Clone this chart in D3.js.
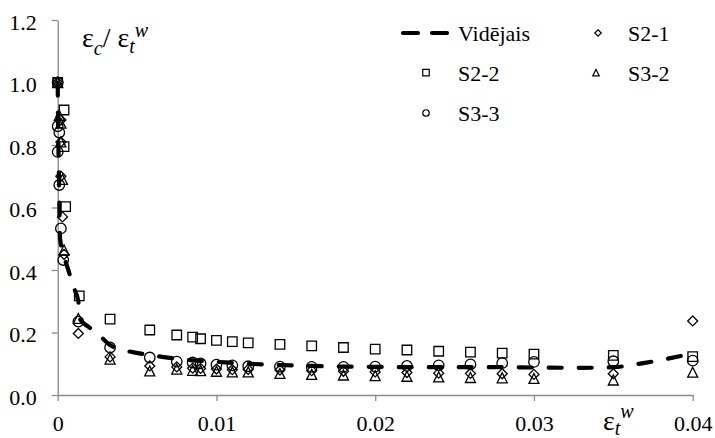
<!DOCTYPE html>
<html>
<head>
<meta charset="utf-8">
<script src="https://cdn.jsdelivr.net/npm/d3@7"></script>
<style>
  html, body { margin: 0; padding: 0; background: #fff; }
  #chart text, #chart tspan { font-family: 'Liberation Serif' !important; }
</style>
</head>
<body>
<svg id="chart" width="715" height="438"></svg>
<script>
// ---- data: strain ratio εc/εt^w against tensile strain εt^w ----
const s21X = [0, 0.0002, 0.0002, 0.0002, 0.0003, 0.0004, 0.0013, 0.0033, 0.0058, 0.0075, 0.0085, 0.009, 0.010, 0.011, 0.012, 0.014, 0.016, 0.018, 0.020, 0.022, 0.024, 0.026, 0.028, 0.030, 0.035, 0.040];
const s21Y = [1.00, 0.88, 0.81, 0.70, 0.57, 0.45, 0.197, 0.122, 0.093, 0.090, 0.086, 0.085, 0.083, 0.081, 0.082, 0.080, 0.078, 0.076, 0.074, 0.072, 0.070, 0.069, 0.068, 0.066, 0.068, 0.237];

const s22X = [0, 0.0004, 0.0004, 0.0005, 0.00136, 0.0033, 0.0058, 0.0075, 0.0085, 0.009, 0.010, 0.011, 0.012, 0.014, 0.016, 0.018, 0.020, 0.022, 0.024, 0.026, 0.028, 0.030, 0.035, 0.040];
const s22Y = [1.00, 0.912, 0.795, 0.603, 0.317, 0.243, 0.208, 0.192, 0.185, 0.180, 0.175, 0.171, 0.167, 0.162, 0.157, 0.152, 0.147, 0.144, 0.140, 0.137, 0.134, 0.131, 0.127, 0.123];

const s32X = [0, 0.0001, 0.0002, 0.0002, 0.0003, 0.0004, 0.0013, 0.0033, 0.0058, 0.0075, 0.0085, 0.009, 0.010, 0.011, 0.012, 0.014, 0.016, 0.018, 0.020, 0.022, 0.024, 0.026, 0.028, 0.030, 0.035, 0.040];
const s32Y = [1.00, 0.895, 0.87, 0.81, 0.69, 0.464, 0.245, 0.115, 0.077, 0.083, 0.079, 0.078, 0.076, 0.074, 0.074, 0.069, 0.066, 0.064, 0.062, 0.060, 0.058, 0.056, 0.055, 0.053, 0.048, 0.073];

const s33X = [0, 0, 0.0001, 0, 0.0001, 0.0002, 0.00035, 0.0013, 0.0033, 0.0058, 0.0075, 0.0085, 0.009, 0.010, 0.011, 0.012, 0.014, 0.016, 0.018, 0.020, 0.022, 0.024, 0.026, 0.028, 0.030, 0.035, 0.040];
const s33Y = [1.00, 0.86, 0.84, 0.778, 0.672, 0.533, 0.432, 0.235, 0.152, 0.120, 0.107, 0.104, 0.101, 0.097, 0.095, 0.092, 0.091, 0.090, 0.090, 0.091, 0.093, 0.095, 0.098, 0.102, 0.106, 0.108, 0.110];

// mean curve (Vidējais)
const avgX = [0, 0.00003, 0.00008, 0.00015, 0.0004, 0.0007, 0.001, 0.0013, 0.00138, 0.002, 0.0027, 0.0033, 0.0043, 0.0058, 0.0075, 0.0085, 0.010, 0.011, 0.012, 0.014, 0.016, 0.018, 0.020, 0.022, 0.024, 0.026, 0.028, 0.030, 0.033, 0.035, 0.037, 0.040];
const avgY = [1.00, 0.85, 0.70, 0.50, 0.445, 0.395, 0.345, 0.30, 0.245, 0.216, 0.187, 0.160, 0.142, 0.128, 0.116, 0.111, 0.106, 0.103, 0.100, 0.096, 0.093, 0.091, 0.090, 0.089, 0.089, 0.089, 0.089, 0.088, 0.087, 0.089, 0.103, 0.133];

const xTicks = [0, 0.01, 0.02, 0.03, 0.04];
const yTicks = [0, 0.2, 0.4, 0.6, 0.8, 1.0, 1.2];

const legendNames = ["Vidējais", "S2-1", "S2-2", "S3-2", "S3-3"];

// ---- layout ----
const FONT = "Liberation Serif";
const svg = d3.select("#chart");
const x = d3.scaleLinear().domain([0, 0.04]).range([57.7, 692.7]);
const y = d3.scaleLinear().domain([0, 1.2]).range([395, 20]);
const axisColor = "#8a8a8a";

// axes
const gx = svg.append("g").attr("transform", "translate(0,395)")
  .call(d3.axisBottom(x).tickValues(xTicks).tickSize(6).tickPadding(14).tickSizeOuter(0)
    .tickFormat(d => d === 0 ? "0" : d3.format(".2f")(d)));
const gy = svg.append("g").attr("transform", "translate(57.7,0)")
  .call(d3.axisLeft(y).tickValues(yTicks).tickSize(6).tickPadding(15).tickSizeOuter(0)
    .tickFormat(d3.format(".1f")));
[gx, gy].forEach(g => {
  g.attr("font-family", null).attr("font-size", null);
  g.select(".domain").attr("stroke", axisColor).attr("stroke-width", 1.3);
  g.selectAll(".tick line").attr("stroke", axisColor).attr("stroke-width", 1.3);
  g.selectAll(".tick text").attr("fill", "#000").attr("font-size", 22)
    .attr("font-family", FONT).style("font-family", FONT);
});
gy.selectAll(".tick text").attr("dy", "0.43em");

// marker shapes
const shapes = {
  square: s => `M${-s/2},${-s/2}h${s}v${s}h${-s}Z`,
  diamond: s => `M0,${-s/2}L${s/2},0L0,${s/2}L${-s/2},0Z`,
  triangle: s => `M0,${-s/2}L${s/2},${s/2}L${-s/2},${s/2}Z`,
  circle: s => `M${s/2},0A${s/2},${s/2} 0 1,1 ${-s/2},0A${s/2},${s/2} 0 1,1 ${s/2},0Z`
};

const series = [
  { xs: s21X, ys: s21Y, shape: "diamond", size: 10 },
  { xs: s22X, ys: s22Y, shape: "square", size: 9.5 },
  { xs: s32X, ys: s32Y, shape: "triangle", size: 10 },
  { xs: s33X, ys: s33Y, shape: "circle", size: 10.5 }
];

const marks = svg.append("g");
series.forEach(s => {
  marks.append("g").selectAll("path")
    .data(s.xs.map((v, i) => [v, s.ys[i]]))
    .join("path")
    .attr("transform", d => `translate(${x(d[0])},${y(d[1])})`)
    .attr("d", shapes[s.shape](s.size))
    .attr("fill", "none").attr("stroke", "#000").attr("stroke-width", 1.3);
});

// mean curve
const line = d3.line().x(d => x(d[0])).y(d => y(d[1])).curve(d3.curveMonotoneX);
svg.append("path")
  .datum(avgX.map((v, i) => [v, avgY[i]]))
  .attr("d", line)
  .attr("fill", "none").attr("stroke", "#000").attr("stroke-width", 4.2)
  .attr("stroke-linecap", "round").attr("stroke-dasharray", "13 17");

// axis titles
function title(px, py, parts) {
  const t = svg.append("text").attr("x", px).attr("y", py)
    .attr("font-family", FONT).attr("font-size", 28);
  parts.forEach(p => {
    const s = t.append("tspan").text(p.text);
    if (p.dy) s.attr("dy", p.dy);
    if (p.small) s.attr("font-size", 20).attr("font-style", "italic");
  });
}
title(82, 47, [
  { text: "ε" }, { text: "c", dy: 8, small: true }, { text: "/ ε", dy: -8 },
  { text: "t", dy: 6, small: true }, { text: "w", dy: -16, small: true }
]);
title(603, 430, [
  { text: "ε" }, { text: "t", dy: 5, small: true }, { text: "w", dy: -17, small: true }
]);

// legend
const lg = svg.append("g");
lg.append("line").attr("x1", 403).attr("x2", 447).attr("y1", 33).attr("y2", 33)
  .attr("stroke", "#000").attr("stroke-width", 4.2).attr("stroke-linecap", "round")
  .attr("stroke-dasharray", "15 14");
const legendItems = [
  { name: legendNames[0], tx: 458, ty: 40.5 },
  { name: legendNames[1], tx: 628, ty: 40.5, shape: "diamond", mx: 598, my: 33 },
  { name: legendNames[2], tx: 458, ty: 80.5, shape: "square", mx: 426, my: 72.7 },
  { name: legendNames[3], tx: 628, ty: 80.5, shape: "triangle", mx: 596, my: 72.7 },
  { name: legendNames[4], tx: 458, ty: 120.5, shape: "circle", mx: 426, my: 113 }
];
legendItems.forEach(it => {
  if (it.shape) {
    lg.append("path").attr("transform", `translate(${it.mx},${it.my})`)
      .attr("d", shapes[it.shape](6.5))
      .attr("fill", "none").attr("stroke", "#000").attr("stroke-width", 1.2);
  }
  svg.append("text").attr("x", it.tx).attr("y", it.ty)
    .attr("font-family", FONT).attr("font-size", 22).text(it.name);
});
</script>
</body>
</html>
